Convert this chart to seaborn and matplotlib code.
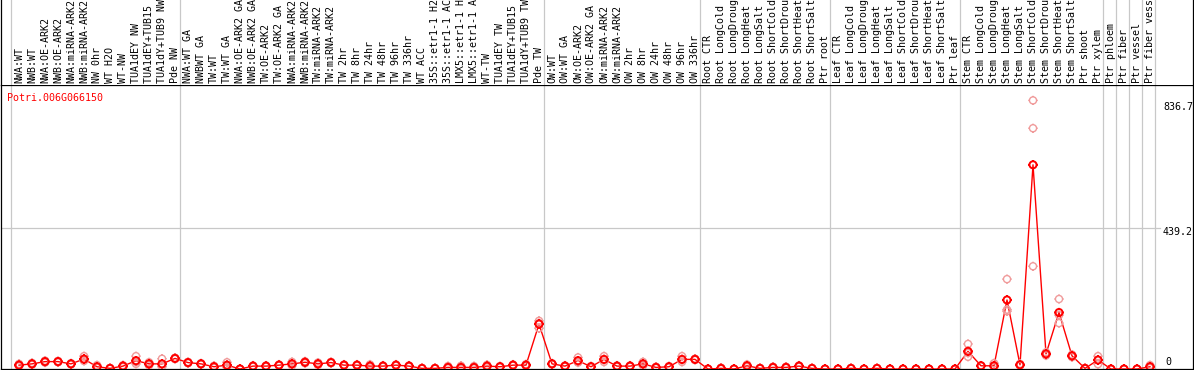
import numpy as np
import pandas as pd
import matplotlib
matplotlib.use("Agg")
import matplotlib.pyplot as plt
from matplotlib.path import Path
import seaborn as sns

# ---------------- data ----------------
gene = "Potri.006G066150"

labels = ["NWA:WT", "NWB:WT", "NWA:OE-ARK2", "NWB:OE-ARK2", "NWA:miRNA-ARK2", "NWB:miRNA-ARK2",
          "NW 0hr", "WT H2O", "WT-NW", "TUA1dEY NW", "TUA1dEY+TUB15 NW", "TUA1dY+TUB9 NW", "Pde NW",
          "NWA:WT GA", "NWBWT GA", "TW:WT", "TW:WT GA", "NWA:OE-ARK2 GA", "NWB:OE-ARK2 GA",
          "TW:OE-ARK2", "TW:OE-ARK2 GA", "NWA:miRNA-ARK2", "NWB:miRNA-ARK2", "TW:miRNA-ARK2",
          "TW:miRNA-ARK2", "TW 2hr", "TW 8hr", "TW 24hr", "TW 48hr", "TW 96hr", "TW 336hr",
          "WT ACC", "35S::etr1-1 H2O", "35S::etr1-1 ACC", "LMX5::etr1-1 H2O", "LMX5::etr1-1 ACC",
          "WT-TW", "TUA1dEY TW", "TUA1dEY+TUB15 TW", "TUA1dY+TUB9 TW", "Pde TW",
          "OW:WT", "OW:WT GA", "OW:OE-ARK2", "OW:OE-ARK2 GA", "OW:miRNA-ARK2", "OW:miRNA-ARK2",
          "OW 2hr", "OW 8hr", "OW 24hr", "OW 48hr", "OW 96hr", "OW 336hr",
          "Root CTR", "Root LongCold", "Root LongDrought", "Root LongHeat", "Root LongSalt",
          "Root ShortCold", "Root ShortDrought", "Root ShortHeat", "Root ShortSalt", "Ptr root",
          "Leaf CTR", "Leaf LongCold", "Leaf LongDrought", "Leaf LongHeat", "Leaf LongSalt",
          "Leaf ShortCold", "Leaf ShortDrought", "Leaf ShortHeat", "Leaf ShortSalt", "Ptr leaf",
          "Stem CTR", "Stem LongCold", "Stem LongDrought", "Stem LongHeat", "Stem LongSalt",
          "Stem ShortCold", "Stem ShortDrought", "Stem ShortHeat", "Stem ShortSalt", "Ptr shoot",
          "Ptr xylem", "Ptr phloem", "Ptr fiber", "Ptr vessel", "Ptr fiber vessel"]

means = [12, 16, 23, 23, 16, 31, 7, 2, 9, 26, 16, 16, 33,
         20, 16, 7, 12, 0, 9, 9, 12, 16, 21, 16, 20, 12, 12, 9, 9, 12, 9, 2, 2, 5, 5, 5, 9, 7, 12, 12, 140,
         16, 9, 26, 7, 30, 9, 9, 16, 5, 7, 30, 30,
         0, 2, 0, 10, 2, 5, 5, 9, 2, 0,
         0, 2, 0, 2, 0, 0, 0, 0, 0, 0,
         55, 10, 10, 215, 13, 636, 47, 176, 41, 2,
         28, 0, 0, 0, 7]

rep1 = [8, 13, 20, 21, 14, 25, 4, 1, 6, 16, 11, 7, 31,
        18, 14, 4, 5, 0, 7, 7, 10, 10, 18, 12, 18, 10, 10, 5, 7, 10, 7, 1, 1, 2, 1, 2, 5, 5, 10, 9, 127,
        14, 7, 20, 5, 22, 7, 7, 10, 3, 5, 22, 28,
        0, 0, 0, 6, 1, 3, 3, 7, 1, 0,
        0, 1, 0, 1, 0, 0, 0, 0, 0, 0,
        38, 9, 6, 185, 10, 320, 42, 143, 37, 1,
        15, 0, 0, 0, 3]

rep2 = [12, 16, 23, 23, 16, 28, 5, 2, 9, 22, 16, 9, 33,
        20, 16, 7, 10, 0, 9, 9, 12, 16, 21, 16, 20, 12, 12, 8, 9, 12, 9, 2, 2, 4, 4, 4, 9, 7, 12, 12, 143,
        16, 9, 22, 7, 28, 9, 9, 16, 5, 7, 28, 30,
        0, 2, 0, 10, 2, 5, 5, 9, 2, 0,
        0, 2, 0, 2, 0, 0, 0, 0, 0, 0,
        50, 10, 6, 180, 13, 750, 47, 168, 41, 2,
        28, 0, 0, 0, 6]

rep3 = [16, 19, 26, 25, 18, 40, 12, 3, 12, 40, 21, 32, 35,
        22, 18, 10, 21, 0, 11, 11, 14, 22, 24, 20, 22, 14, 14, 14, 11, 14, 11, 3, 3, 9, 10, 9, 13, 9, 14, 15, 150,
        18, 11, 36, 9, 40, 11, 11, 22, 7, 9, 40, 32,
        0, 4, 0, 14, 3, 7, 7, 11, 3, 0,
        0, 3, 0, 3, 0, 0, 0, 0, 0, 0,
        78, 11, 18, 280, 16, 836.7, 52, 218, 45, 3,
        40, 0, 0, 0, 12]

group_bounds = [-0.5, 12.5, 40.5, 52.5, 62.5, 72.5, 83.5, 84.5, 85.5, 86.5, 87.5]
y_ticks = [836.7, 439.2, 0]

# ---------------- layout ----------------
W, H = 1194, 370
fig = plt.figure(figsize=(W / 100, H / 100), dpi=100)
mono = "DejaVu Sans Mono"
fs = 7.2

n = len(labels)
idx = np.arange(n)
xl = ((1 - 19) / 13, (1193 - 19) / 13)
scale = 439.2 / (369 - 228)          # value per pixel
ylim = (0, (369 - 85) * scale)

def fy(p):  # pixel from top -> figure fraction
    return 1 - p / H

ax = fig.add_axes([1 / W, fy(369), 1192 / W, (369 - 85) / H])
hd = fig.add_axes([1 / W, fy(85), 1192 / W, 85 / H])

for a in (ax, hd):
    a.set_xlim(*xl)
    a.set_xticks([])
    a.set_yticks([])
    a.set_facecolor("white")
    for s in a.spines.values():
        s.set_color("black")
        s.set_linewidth(0.9)
    for b in group_bounds:
        a.axvline(b - 0.08, color="#c8c8c8", lw=0.9, zorder=1)

hd.set_ylim(0, 85)
hd.spines["top"].set_visible(False)
hd.spines["bottom"].set_visible(False)
ax.set_ylim(*ylim)

ax.axhline(439.2, xmin=0, xmax=(1160 - 1) / 1192, color="#c8c8c8", lw=0.9, zorder=1)

# header labels
for i, lab in enumerate(labels):
    hd.text(i, 2, lab, rotation=90, ha="center", va="bottom", fontsize=fs,
            family=mono, color="black", clip_on=False)

# custom marker: circle with four tick stubs
circ = Path.unit_circle()
verts = list(circ.vertices)
codes = list(circ.codes)
t = 1.3
for (x0, y0, x1, y1) in [(0, 1, 0, t), (0, -1, 0, -t), (1, 0, t, 0), (-1, 0, -t, 0)]:
    verts += [(x0, y0), (x1, y1)]
    codes += [Path.MOVETO, Path.LINETO]
mk = Path(np.array(verts), codes)

df = pd.DataFrame({"idx": idx, "mean": means})
reps = pd.DataFrame({"idx": np.concatenate([idx, idx, idx]),
                     "val": np.concatenate([rep1, rep2, rep3])})

sns.lineplot(data=df, x="idx", y="mean", ax=ax, color="red", lw=1.0, zorder=3,
             estimator=None, sort=False)
sns.scatterplot(data=reps, x="idx", y="val", ax=ax, marker=mk, s=44,
                facecolor="none", edgecolor="#f09a9a", linewidth=1.0, zorder=4)
sns.scatterplot(data=df, x="idx", y="mean", ax=ax, marker=mk, s=44,
                facecolor="none", edgecolor="red", linewidth=1.4, zorder=5)
ax.set_xlabel("")
ax.set_ylabel("")
ax.set_xlim(*xl)
ax.set_ylim(*ylim)

# value labels on right
fig.text(1163 / W, fy(107), "836.7", ha="left", va="center", fontsize=fs, family=mono)
fig.text(1163 / W, fy(232), "439.2", ha="left", va="center", fontsize=fs, family=mono)
fig.text(1165 / W, fy(362), "0", ha="left", va="center", fontsize=fs, family=mono)

fig.text(7 / W, fy(98), gene, ha="left", va="center", fontsize=fs, family=mono, color="red")

fig.savefig("out.png", dpi=100)
